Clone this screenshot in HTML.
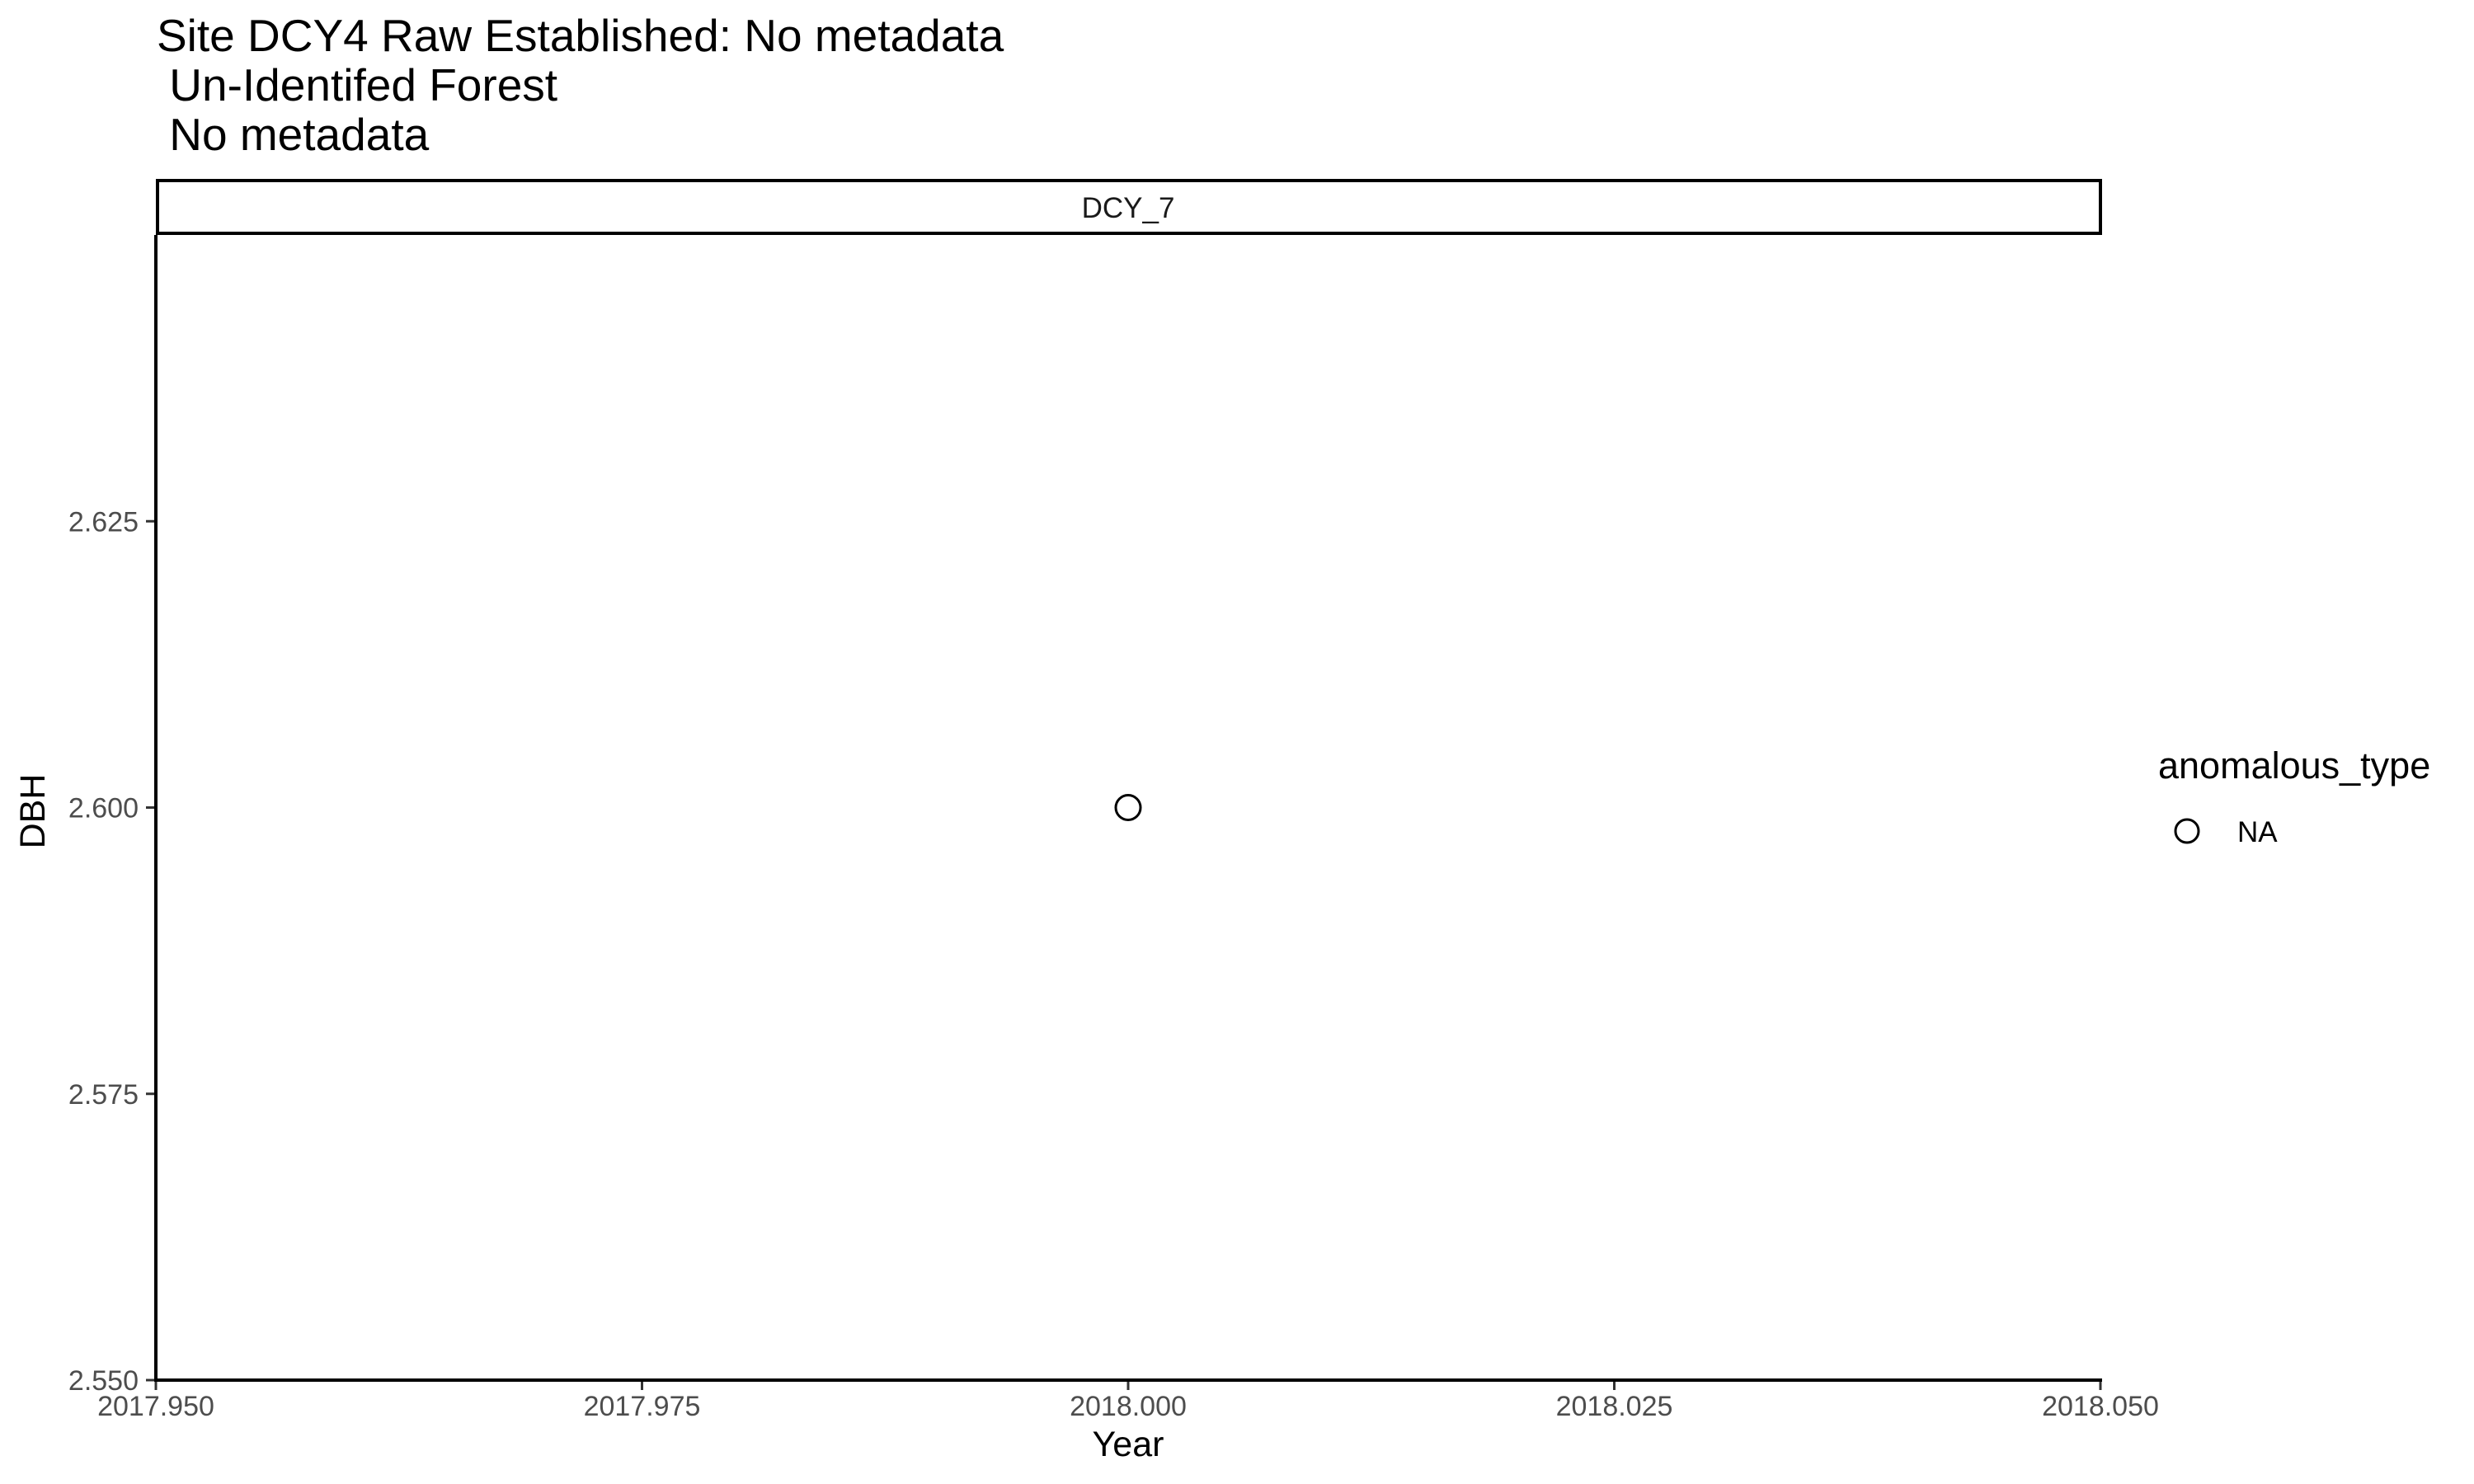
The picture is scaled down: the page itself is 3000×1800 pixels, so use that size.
<!DOCTYPE html>
<html><head><meta charset="utf-8"><style>
html,body{margin:0;padding:0;background:#fff;}
svg{display:block;font-family:"Liberation Sans",Arial,sans-serif;}
</style></head><body>
<svg id="chart" width="3000" height="1800" viewBox="0 0 3000 1800" xmlns="http://www.w3.org/2000/svg">
<g font-size="55" fill="#000">
<text x="190" y="62">Site DCY4 Raw Established: No metadata</text>
<text x="190" y="122" xml:space="preserve"> Un-Identifed Forest</text>
<text x="190" y="182" xml:space="preserve"> No metadata</text>
</g>
<rect x="191" y="219" width="2356" height="64" fill="#fff" stroke="#000" stroke-width="4"/>
<text x="1368" y="264" text-anchor="middle" font-size="35" fill="#1a1a1a">DCY_7</text>
<g id="xticks"></g>
<g id="yticks"></g>
<line x1="189" y1="285" x2="189" y2="1674" stroke="#000" stroke-width="4"/>
<line x1="187" y1="1674" x2="2549" y2="1674" stroke="#000" stroke-width="4"/>
<g id="points"></g>
<text x="1368" y="1766" text-anchor="middle" font-size="43" fill="#000">Year</text>
<text transform="translate(54,984) rotate(-90)" text-anchor="middle" font-size="43" fill="#000">DBH</text>
<text x="2617" y="944" font-size="45" fill="#000">anomalous_type</text>
<circle cx="2652" cy="1008" r="14" fill="none" stroke="#000" stroke-width="3"/>
<text x="2713" y="1021" font-size="35" fill="#000">NA</text>
</svg>
<script>
const xTicks = [2017.950, 2017.975, 2018.000, 2018.025, 2018.050];
const xTickLabels = ["2017.950", "2017.975", "2018.000", "2018.025", "2018.050"];
const yTicks = [2.550, 2.575, 2.600, 2.625];
const yTickLabels = ["2.550", "2.575", "2.600", "2.625"];
const pointYears = [2018.0];
const pointDBH = [2.6];

const NS = "http://www.w3.org/2000/svg";
const xMin = 2017.95, xMax = 2018.05, yMin = 2.55, yMax = 2.65;
const px0 = 189, px1 = 2547, py0 = 1674, py1 = 285;
function xs(v){ return px0 + (v - xMin) / (xMax - xMin) * (px1 - px0); }
function ys(v){ return py0 - (v - yMin) / (yMax - yMin) * (py0 - py1); }
function mk(tag, attrs){ const e = document.createElementNS(NS, tag); for (const k in attrs) e.setAttribute(k, attrs[k]); return e; }

const gx = document.getElementById("xticks");
xTicks.forEach((t, i) => {
  const x = xs(t);
  const l = mk("line", {x1:x, y1:1674, x2:x, y2:1686, stroke:"#333", "stroke-width":3});
  
  
  gx.appendChild(l);
  const tx = mk("text", {x:x, y:1717, "text-anchor":"middle", "font-size":34, fill:"#4d4d4d"});
  tx.textContent = xTickLabels[i];
  
  
  gx.appendChild(tx);
});
const gy = document.getElementById("yticks");
yTicks.forEach((t, i) => {
  const y = ys(t);
  const l = mk("line", {x1:177, y1:y, x2:189, y2:y, stroke:"#333", "stroke-width":3});
  
  
  gy.appendChild(l);
  const tx = mk("text", {x:168, y:y + 12, "text-anchor":"end", "font-size":34, fill:"#4d4d4d"});
  tx.textContent = yTickLabels[i];
  
  
  gy.appendChild(tx);
});
const gp = document.getElementById("points");
pointYears.forEach((yr, i) => {
  const c = mk("circle", {cx:xs(yr), cy:ys(pointDBH[i]), r:15, fill:"none", stroke:"#000", "stroke-width":3});
  
  
  gp.appendChild(c);
});
</script>
</body></html>
